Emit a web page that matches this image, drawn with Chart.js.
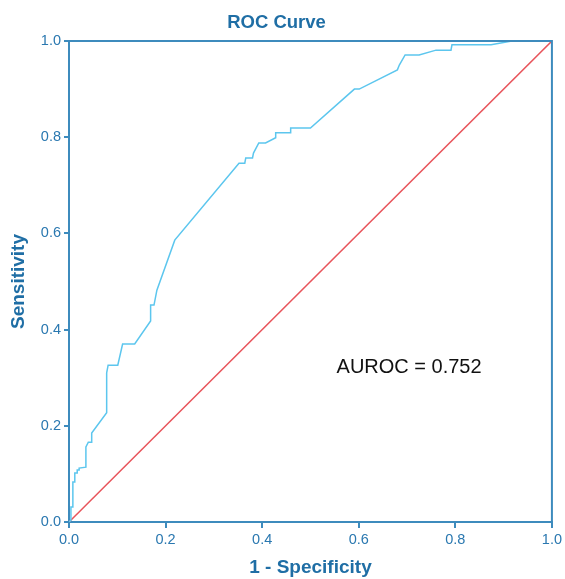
<!DOCTYPE html>
<html>
<head>
<meta charset="utf-8">
<script src="https://cdn.jsdelivr.net/npm/chart.js@4/dist/chart.umd.min.js"></script>
<style>
  html, body { margin: 0; padding: 0; background: #fff; }
  #wrap { width: 565px; height: 579px; }
</style>
</head>
<body>
<div id="wrap"><canvas id="roc"></canvas></div>
<script>
// ROC curve points (1 - specificity, sensitivity)
const fpr = [0, 0.004, 0.004, 0.008, 0.008, 0.012, 0.012, 0.017, 0.017, 0.021, 0.021, 0.035, 0.035, 0.040, 0.047, 0.047,
  0.078, 0.078, 0.081, 0.101, 0.111, 0.136, 0.169, 0.169, 0.176, 0.182, 0.219, 0.352, 0.364, 0.366, 0.380, 0.382,
  0.393, 0.407, 0.428, 0.428, 0.458, 0.459, 0.500, 0.591, 0.601, 0.680, 0.684, 0.696, 0.725, 0.760, 0.791, 0.793,
  0.874, 0.917, 1]
const tpr = [0, 0.004, 0.031, 0.031, 0.083, 0.083, 0.102, 0.102, 0.108, 0.108, 0.112, 0.114, 0.156, 0.166, 0.166, 0.185,
  0.227, 0.310, 0.326, 0.326, 0.370, 0.370, 0.418, 0.451, 0.451, 0.482, 0.586, 0.746, 0.746, 0.757, 0.757, 0.767,
  0.788, 0.788, 0.799, 0.809, 0.809, 0.819, 0.819, 0.900, 0.900, 0.940, 0.950, 0.971, 0.971, 0.981, 0.981, 0.992,
  0.992, 1, 1]
const refLine = [0, 1]
const tickValues = [0, 0.2, 0.4, 0.6, 0.8, 1]
const aucText = 'AUROC = 0.752'
const aucPos = [0.554, 0.322]

const axisColor = '#3d8bbd'
const textColor = '#2a78b0'

const rocPoints = fpr.map((x, i) => ({ x: x, y: tpr[i] }))
const refPoints = refLine.map((v) => ({ x: v, y: v }))

// box around the plot and the AUROC note
const extras = {
  id: 'extras',
  afterDatasetsDraw(chart) {
    const { ctx, chartArea, scales } = chart
    ctx.save()
    ctx.strokeStyle = axisColor
    ctx.lineWidth = 2
    ctx.beginPath()
    ctx.moveTo(chartArea.left, chartArea.top)
    ctx.lineTo(chartArea.right, chartArea.top)
    ctx.lineTo(chartArea.right, chartArea.bottom)
    ctx.stroke()
    ctx.fillStyle = '#111'
    ctx.font = '20px "Liberation Sans", Arial, sans-serif'
    ctx.textBaseline = 'middle'
    ctx.textAlign = 'left'
    ctx.fillText(aucText, scales.x.getPixelForValue(aucPos[0]), scales.y.getPixelForValue(aucPos[1]))
    ctx.restore()
  }
}

const tickFont = { family: '"Liberation Sans", Arial, sans-serif', size: 14.5 }
const titleFont = { family: '"Liberation Sans", Arial, sans-serif', size: 19, weight: 'bold' }

new Chart(document.getElementById('roc'), {
  type: 'scatter',
  data: {
    datasets: [
      {
        data: rocPoints,
        showLine: true,
        borderColor: '#5cc6ee',
        borderWidth: 1.5,
        pointRadius: 0,
        fill: false,
        tension: 0
      },
      {
        data: refPoints,
        showLine: true,
        borderColor: '#e8545b',
        borderWidth: 1.5,
        pointRadius: 0,
        fill: false
      }
    ]
  },
  options: {
    responsive: true,
    maintainAspectRatio: false,
    animation: false,
    layout: { padding: { top: 0, right: 12, bottom: 0, left: 0 } },
    plugins: {
      legend: { display: false },
      tooltip: { enabled: false },
      title: {
        display: true,
        text: 'ROC Curve',
        color: '#1f6ea5',
        font: { family: '"Liberation Sans", Arial, sans-serif', size: 18.5, weight: 'bold' },
        padding: { top: 12, bottom: 6.8 }
      }
    },
    scales: {
      x: {
        type: 'linear',
        min: 0,
        max: 1,
        afterBuildTicks: (scale) => { scale.ticks = tickValues.map((v) => ({ value: v })) },
        afterFit: (scale) => { scale.height = 57 },
        grid: { drawOnChartArea: false, color: axisColor, tickLength: 6, lineWidth: 2 },
        border: { color: axisColor, width: 2 },
        ticks: { color: textColor, font: tickFont, padding: 3, callback: (v) => v.toFixed(1) },
        title: { display: true, text: '1 - Specificity', color: '#1f6ea5', font: titleFont, padding: { top: 6, bottom: 0 } }
      },
      y: {
        type: 'linear',
        min: 0,
        max: 1,
        afterBuildTicks: (scale) => { scale.ticks = tickValues.map((v) => ({ value: v })) },
        afterFit: (scale) => { scale.width = 69 },
        grid: { drawOnChartArea: false, color: axisColor, tickLength: 5, lineWidth: 2 },
        border: { color: axisColor, width: 2 },
        ticks: { color: textColor, font: tickFont, padding: 3, callback: (v) => v.toFixed(1) },
        title: { display: true, text: 'Sensitivity', color: '#1f6ea5', font: titleFont, padding: { top: 7, bottom: 2 } }
      }
    }
  },
  plugins: [extras]
})
</script>
</body>
</html>
